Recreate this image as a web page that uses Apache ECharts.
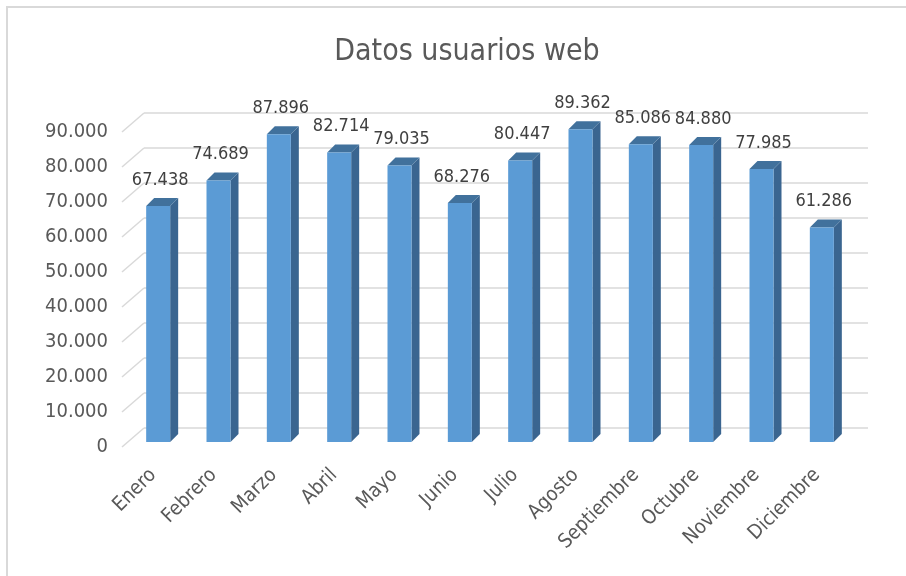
<!DOCTYPE html>
<html>
<head>
<meta charset="utf-8">
<title>Datos usuarios web</title>
<script src="https://cdn.jsdelivr.net/npm/echarts@6/dist/echarts.min.js"></script>
<style>
	html, body { margin: 0; padding: 0; background: #fff; }
	#main { width: 906px; height: 576px; }
</style>
</head>
<body>
<div id="main"></div>
<script>
// datos del grafico
var meses = ['Enero','Febrero','Marzo','Abril','Mayo','Junio','Julio','Agosto','Septiembre','Octubre','Noviembre','Diciembre'];
var usuarios = [67438, 74689, 87896, 82714, 79035, 68276, 80447, 89362, 85086, 84880, 77985, 61286];
var ticksY = [0, 10000, 20000, 30000, 40000, 50000, 60000, 70000, 80000, 90000];

var fuente = "'DejaVu Sans Condensed', sans-serif";
var gris = '#595959';

// profundidad de la pared del fondo y de las barras
var paredDx = 21, paredDy = -19;
var barDx = 8, barDy = -8;
var barOx = 5, barOy = -5;
var barAncho = 24;

function miles(v) {
	var s = String(Math.round(v));
	return s.replace(/\B(?=(\d{3})+(?!\d))/g, '.');
}

var chart = echarts.init(document.getElementById('main'));

// pared del fondo: lineas de division + diagonales
function renderPared(params, api) {
	var cs = params.coordSys;
	var v = api.value(0);
	var y = api.coord([0, v])[1];
	return {
		type: 'group',
		silent: true,
		children: [
			{
				type: 'line',
				shape: { x1: cs.x - 1, y1: y, x2: cs.x + paredDx, y2: y + paredDy },
				style: { stroke: '#d9d9d9', lineWidth: 1.5 }
			},
			{
				type: 'line',
				shape: { x1: cs.x + paredDx, y1: y + paredDy, x2: cs.x + cs.width + paredDx, y2: y + paredDy },
				style: { stroke: '#d9d9d9', lineWidth: 1.5 }
			}
		]
	};
}

// barra 3D: frente, lado y tapa
function renderBarra(params, api) {
	var idx = api.value(0);
	var val = api.value(1);
	var base = api.coord([idx, 0]);
	var cima = api.coord([idx, val]);
	var x0 = base[0] + barOx - barAncho / 2;
	var x1 = x0 + barAncho;
	var yb = base[1] + barOy;
	var yt = cima[1] + barOy;
	return {
		type: 'group',
		children: [
			{
				type: 'polygon',
				shape: { points: [[x1, yt], [x1 + barDx, yt + barDy], [x1 + barDx, yb + barDy], [x1, yb]] },
				style: { fill: '#3a6590' }
			},
			{
				type: 'polygon',
				shape: { points: [[x0, yt], [x0 + barDx, yt + barDy], [x1 + barDx, yt + barDy], [x1, yt]] },
				style: { fill: '#41719c' }
			},
			{
				type: 'rect',
				shape: { x: x0, y: yt, width: barAncho, height: yb - yt },
				style: { fill: '#5b9bd5' }
			},
			{
				type: 'text',
				x: (x0 + x1) / 2 + 2,
				y: yt - 17,
				style: {
					text: miles(val),
					fill: '#404040',
					font: '18px ' + fuente,
					align: 'center',
					verticalAlign: 'bottom'
				}
			}
		]
	};
}

var datosBarras = [];
for (var i = 0; i < usuarios.length; i++) {
	datosBarras.push([i, usuarios[i]]);
}

var option = {
	animation: false,
	title: {
		text: 'Datos usuarios web',
		left: 462,
		top: 32,
		textAlign: 'center',
		textStyle: {
			fontFamily: fuente,
			fontSize: 30,
			fontWeight: 'normal',
			color: gris
		}
	},
	graphic: [{
		type: 'rect',
		shape: { x: 7, y: 7, width: 930, height: 600 },
		style: { fill: null, stroke: '#d9d9d9', lineWidth: 2 },
		silent: true
	}],
	grid: {
		left: 123,
		right: 59,
		top: 132,
		bottom: 129,
		containLabel: false
	},
	xAxis: {
		type: 'category',
		data: meses,
		axisLine: { show: false },
		axisTick: { show: false },
		axisLabel: {
			interval: 0,
			rotate: 45,
			margin: 25,
			color: gris,
			fontFamily: fuente,
			fontSize: 20
		}
	},
	yAxis: {
		type: 'value',
		min: 0,
		max: 90000,
		interval: 10000,
		axisLine: { show: false },
		axisTick: { show: false },
		splitLine: { show: false },
		axisLabel: {
			margin: 15,
			color: gris,
			fontFamily: fuente,
			fontSize: 20,
			formatter: function (v) { return miles(v); }
		}
	},
	series: [
		{
			type: 'custom',
			name: 'pared',
			renderItem: renderPared,
			data: ticksY,
			encode: { y: 0 },
			silent: true,
			z: 1
		},
		{
			type: 'custom',
			name: 'usuarios',
			renderItem: renderBarra,
			data: datosBarras,
			encode: { x: 0, y: 1 },
			z: 2
		}
	]
};

chart.setOption(option);
window.addEventListener('resize', function () {
	chart.resize();
});
</script>
</body>
</html>
